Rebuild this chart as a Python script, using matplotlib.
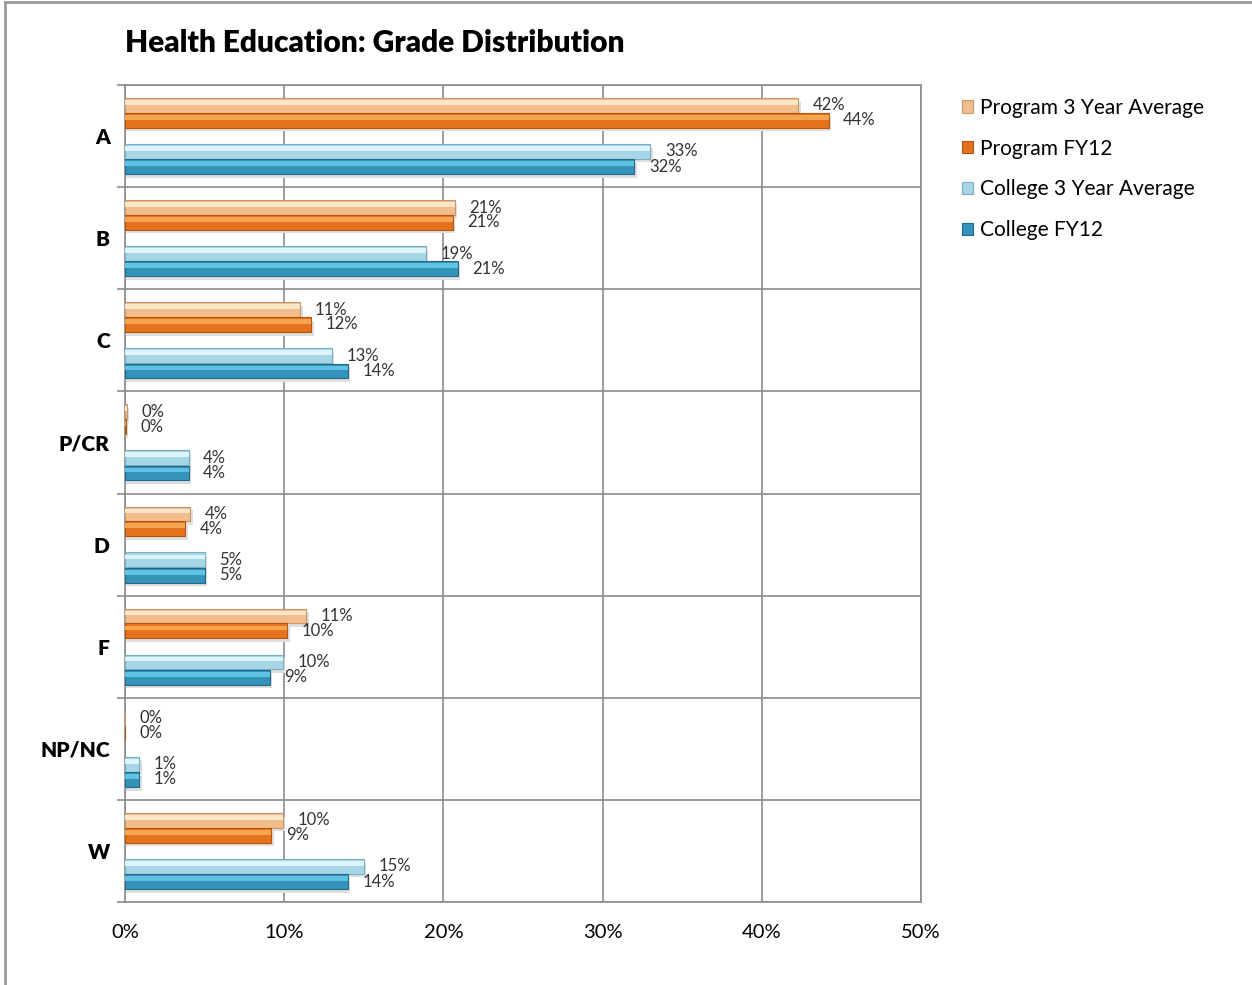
import matplotlib.pyplot as plt
from matplotlib.patches import Patch
from matplotlib.lines import Line2D

plt.rcParams['font.family'] = ['Lato', 'DejaVu Sans']

grades = ["A", "B", "C", "P/CR", "D", "F", "NP/NC", "W"]
program_3yr = [42.3, 20.7, 11.0, 0.1, 4.1, 11.4, 0.0, 9.9]
program_fy12 = [44.2, 20.6, 11.7, 0.05, 3.8, 10.2, 0.0, 9.2]
college_3yr = [33.0, 18.9, 13.0, 4.0, 5.0, 9.9, 0.9, 15.0]
college_fy12 = [32.0, 20.9, 14.0, 4.0, 5.0, 9.1, 0.9, 14.0]

series = [
    ("Program 3 Year Average", program_3yr, "#F2BE8E", "#FDE6C8", "#C8966A"),
    ("Program FY12", program_fy12, "#E5721C", "#F6A451", "#B0560F"),
    ("College 3 Year Average", college_3yr, "#A6D6E6", "#DDF4FB", "#7AAFC2"),
    ("College FY12", college_fy12, "#3592B8", "#5FC2E2", "#22698A"),
]
offsets = [-0.30, -0.155, 0.15, 0.30]
h = 0.145

fig = plt.figure(figsize=(12.52, 9.85), dpi=100)
ax = fig.add_axes([125 / 1252, 1 - 902 / 985, (921 - 125) / 1252, (902 - 85) / 985])

for (name, vals, base, light, edge), off in zip(series, offsets):
    ys = [i + off for i in range(len(grades))]
    # shadow
    ax.barh([y + h * 0.25 for y in ys], [v + 0.15 if v > 0 else 0 for v in vals],
            height=h, color="#dedede", lw=0, zorder=2)
    ax.barh(ys, vals, height=h, color=base, edgecolor=edge, lw=0.8, zorder=3)
    ax.barh([y - h * 0.2 for y in ys], vals, height=h * 0.32, color=light, lw=0, zorder=4)
    for y, v in zip(ys, vals):
        ax.annotate(f"{v:.0f}%", (v, y), xytext=(10.5, 0), textcoords="offset points",
                    va="center", ha="left", fontsize=12, color="#333333", zorder=5)

ax.set_xlim(0, 50)
ax.set_ylim(len(grades) - 0.5, -0.5)
ax.set_xticks([0, 10, 20, 30, 40, 50])
ax.set_xticklabels([f"{t}%" for t in [0, 10, 20, 30, 40, 50]], fontsize=14.5)
ax.tick_params(axis="x", length=0, pad=16)
ax.set_yticks(range(len(grades)))
ax.set_yticklabels(grades, fontsize=15, fontweight="heavy")
ax.tick_params(axis="y", which="major", length=0, pad=11)
ax.set_yticks([i + 0.5 for i in range(-1, len(grades))], minor=True)
ax.tick_params(axis="y", which="minor", length=6, color="#8c8c8c", width=1.2)
ax.grid(axis="x", color="#8c8c8c", lw=1.2, zorder=1)
ax.grid(axis="y", which="minor", color="#8c8c8c", lw=1.2, zorder=1)
ax.set_axisbelow(True)
for s in ax.spines.values():
    s.set_color("#8c8c8c")
    s.set_linewidth(1.2)

fig.text(125 / 1252, 1 - 43 / 985, "Health Education: Grade Distribution",
         fontsize=21.5, fontweight="heavy", va="center", ha="left")

handles = [Patch(facecolor=base, edgecolor=edge, lw=0.8) for _, _, base, _, edge in series]
fig.legend(handles, [s[0] for s in series], loc="upper left",
           bbox_to_anchor=(943 / 1252, 1 - 79 / 985), frameon=False, fontsize=15,
           handlelength=0.55, handleheight=0.55, handletextpad=0.35, labelspacing=1.0)

fig.add_artist(Line2D([5 / 1252, 1], [1 - 2 / 985, 1 - 2 / 985], color="#9a9a9a", lw=2))
fig.add_artist(Line2D([5 / 1252, 5 / 1252], [0, 1 - 2 / 985], color="#9a9a9a", lw=2))

fig.savefig("out.png", dpi=100)
